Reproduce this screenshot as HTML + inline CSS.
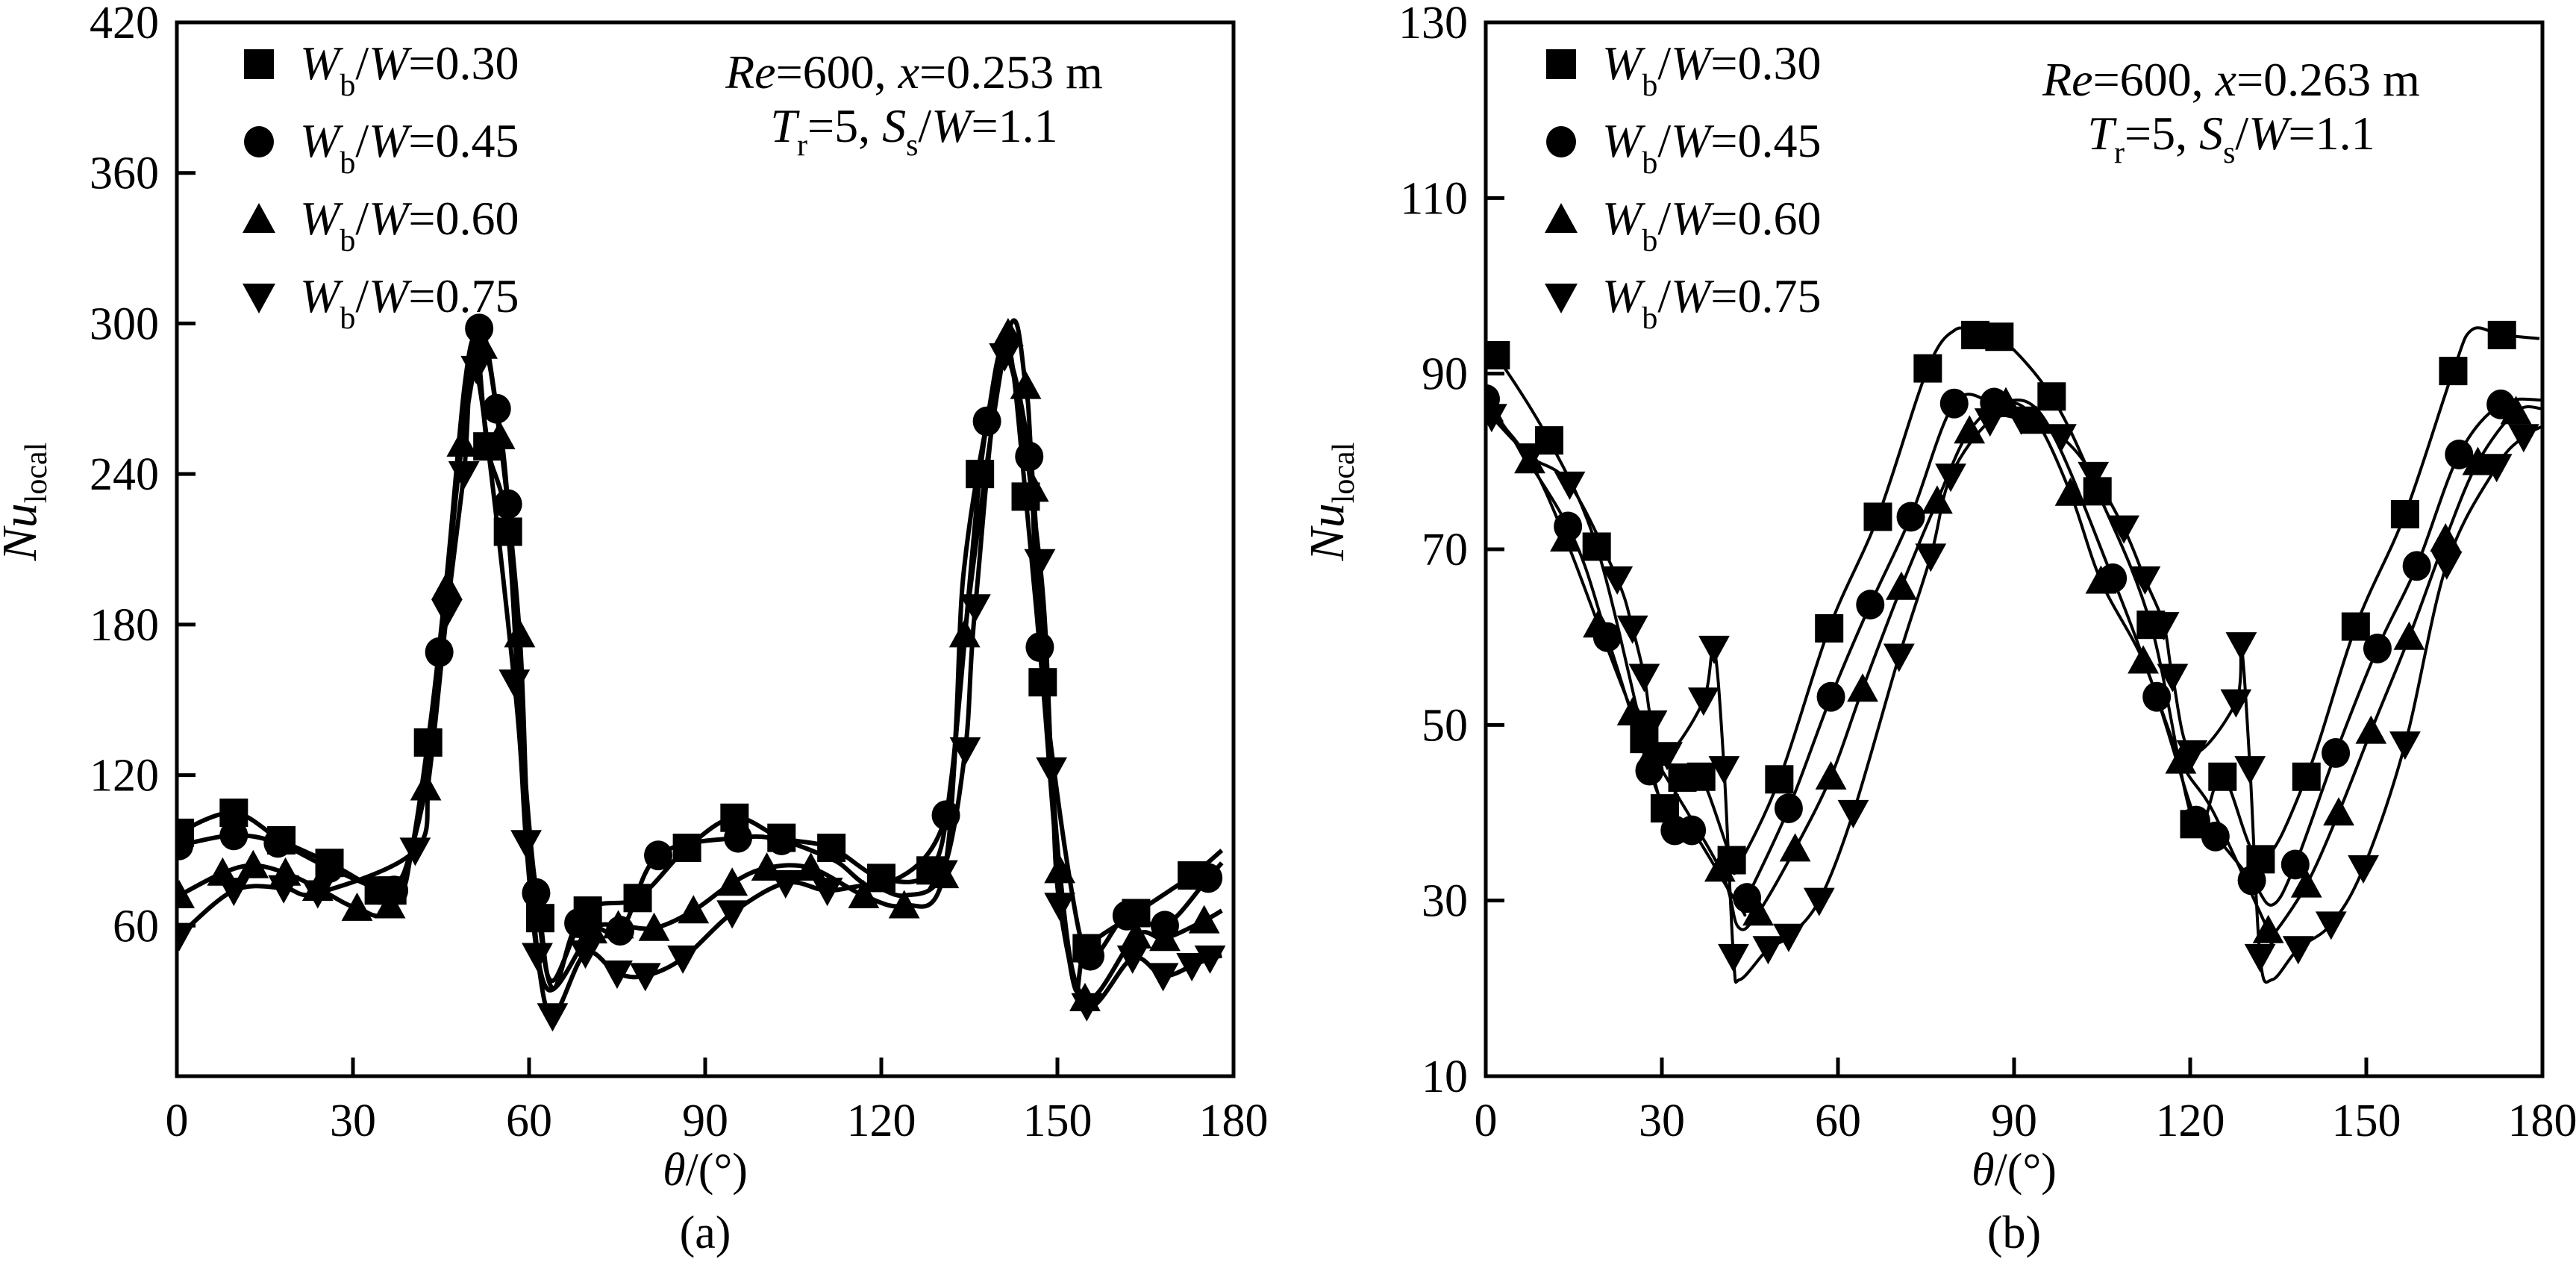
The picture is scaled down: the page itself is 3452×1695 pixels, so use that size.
<!DOCTYPE html>
<html><head><meta charset="utf-8"><style>
html,body{margin:0;padding:0;background:#fff;}
svg, svg text{font-family:"Liberation Serif","Noto Serif CJK SC","Times New Roman",serif;}
</style></head><body>
<svg id="chart" width="3452" height="1690" viewBox="0 0 3452 1690" xmlns="http://www.w3.org/2000/svg"></svg>
<script>
// ---------- Panel (a) data ----------
const aS1x=[0.5,9.7,17.8,26,34.4,36.7,42.8,52.9,56.4,61.9,70,78.5,86.9,95,103,111.5,120,128.4,136.8,144.6,147.5,155,163.4,172.9];
const aS1y=[97,105,94,85,74,74,133,251,217,63,66,71,91,103,95,91,79,82,240,231,157,51,65,80];
const aS1cx=[0,40,46,49,51,59,64,132,140,142,150,153,178];
const aS1cy=[92,90,200,275,293,120,38,120,282,288,85,35,90];

const aS2x=[0.4,9.7,17.2,26,37,44.7,51.5,54.5,56.4,61.2,68.4,75.5,82,95.6,103,131,138,145.2,147,155.6,161.8,168.3,175.7];
const aS2y=[92,96,93,83,74,169,298,266,228,73,61,58,88,95,94,104,261,247,171,48,64,60,79];
const aS2cx=[40,48,59,64,112,120,134,141,152,178];
const aS2cy=[90,245,130,35,86,76,200,290,80,85];

const aS3x=[0.4,7.8,13,18.5,24,30.7,36.3,42.4,46,48.6,52,55,58.4,70.7,75.2,81.3,88,94.6,100.5,108,117,123.9,130.6,134.2,141.6,144.6,145.9,150.4,154.7,163.4,168.3,175];
const aS3y=[72,81,84,81,75,67,68,115,195,252,291,255,176,58,60,59,66,77,83,83,72,68,80,176,296,275,234,82,31,56,55,62];
const aS3cx=[60,63,178];
const aS3cy=[90,35,66];

const aS4x=[0.4,9.7,18.2,24,40.6,46,48.9,51,57.5,59.5,61.4,64,69.6,75,79.8,86.2,94.6,103.7,110.8,130.4,134.3,136,141,147,149,150.4,155,162.8,168,172.9,176];
const aS4y=[56,74,75,73,90,185,240,282,157,93,48,24,49,41,40,47,65,77,74,81,130,187,287,205,122,68,28,47,40,44,47];
const aS4cx=[43,118,124,178];
const aS4cy=[120,76,72,48];

// ---------- Panel (b) data ----------
const bS1x=[1.7,10.8,18.9,27,30.5,33.5,36.7,41.9,50,58.5,66.8,75.3,83.4,87.5,96.4,104.2,113.3,120.7,125.5,132,139.8,148.2,156.6,164.8,173.1];
const bS1y=[92.1,82.4,70.3,48.4,40.5,44,44.1,34.6,43.8,61,73.7,90.6,94.4,94.2,87.4,76.6,61.4,38.7,44.1,34.7,44.1,61.2,74,90.3,94.4];
const bS1cx=[0,80,43,168,179.5];
const bS1cy=[92.5,95,34,95,94];

const bS2x=[0,14,20.7,27.9,32.2,35.1,44.5,51.6,58.8,65.5,72.4,79.8,86.6,106.8,114.3,121,124.3,130.5,137.9,144.8,151.9,158.6,165.8,172.9];
const bS2y=[87.1,72.6,60,44.8,38,38,30.3,40.5,53.2,63.7,73.7,86.6,86.7,66.7,53.2,39.1,37.3,32.3,34.1,46.8,58.7,68.1,80.8,86.5];
const bS2cx=[43.5,95,134,180];
const bS2cy=[29,85,29.5,87];

const bS3x=[0.4,7.5,13.6,19.2,25,28.3,39.9,46.4,52.7,58.8,64.2,70.8,76.9,82.4,88.6,93.8,99.6,104.8,112,118.4,133.3,139.8,145.3,150.8,157.3,163.5,169,175.5];
const bS3y=[86,80.1,71.2,61.4,51.4,46.8,33.6,28.6,35.9,44.1,54.1,65.7,75.5,83.5,86.7,84.6,76.4,66.4,57.3,45.9,26.6,31.8,40,49.3,60,71.2,79.9,85.7];
const bS3cx=[43,124,134,180];
const bS3cy=[27,40,26,86];

const bS4x=[1,7.5,14.3,22.4,25,27,28.3,30.9,37.1,38.9,40.6,42.2,48.1,51.6,56.8,62.6,70.4,75.8,79.2,85.9,91.2,98,103.5,108.7,112.3,115.5,117,120.3,127.8,128.7,130.2,131.9,138.4,144,149.5,156.6,163.7,172.2,176.8];
const bS4y=[85.1,80.6,77.4,66.6,61,55.5,50.2,46.6,52.8,58.7,45,23.6,24.5,25.9,30,40,57.8,69.2,78.3,84.6,84.8,82.8,78.5,72.4,66.6,61.4,55.5,46.8,52.6,59.1,45,23.6,24.5,27.3,33.7,47.8,68.3,79.4,82.8];
const bS4cx=[0,43.3,134,180];
const bS4cy=[86,21,21,84];

const seriesLabels=["0.30","0.45","0.60","0.75"];
const markerKinds=["square","circle","up","down"];
const xTicks=[0,30,60,90,120,150,180];
const aYTicks=[60,120,180,240,300,360,420];
const bYTicks=[10,30,50,70,90,110,130];
</script>
<script>
const NS="http://www.w3.org/2000/svg";
const FONT='"Liberation Serif","Noto Serif CJK SC",serif';
const svg=document.getElementById('chart');
function mk(tag,attrs,parent){const e=document.createElementNS(NS,tag);for(const k in attrs)e.setAttribute(k,attrs[k]);if(tag==='text'){e.setAttribute('font-family','Liberation Serif, Noto Serif CJK SC, serif');e.style.fontFamily=FONT;}(parent||svg).appendChild(e);return e;}

function smoothPath(pts){
  let d="M"+pts[0][0].toFixed(1)+","+pts[0][1].toFixed(1);
  for(let i=0;i<pts.length-1;i++){
    const p0=pts[Math.max(0,i-1)],p1=pts[i],p2=pts[i+1],p3=pts[Math.min(pts.length-1,i+2)];
    const c1=[p1[0]+(p2[0]-p0[0])/6,p1[1]+(p2[1]-p0[1])/6];
    const c2=[p2[0]-(p3[0]-p1[0])/6,p2[1]-(p3[1]-p1[1])/6];
    d+="C"+c1[0].toFixed(1)+","+c1[1].toFixed(1)+" "+c2[0].toFixed(1)+","+c2[1].toFixed(1)+" "+p2[0].toFixed(1)+","+p2[1].toFixed(1);
  }
  return d;
}
function marker(g,kind,cx,cy,s){
  let e;
  if(kind==="square"){e=mk('rect',{x:cx-s/2,y:cy-s/2,width:s,height:s,fill:'#000'},g);}
  else if(kind==="circle"){e=mk('ellipse',{cx:cx,cy:cy,rx:s/2,ry:s/2*1.05,fill:'#000'},g);}
  else if(kind==="up"){e=mk('polygon',{points:`${cx},${cy-s*0.55} ${cx+s*0.55},${cy+s*0.45} ${cx-s*0.55},${cy+s*0.45}`,fill:'#000'},g);}
  else {e=mk('polygon',{points:`${cx},${cy+s*0.55} ${cx+s*0.55},${cy-s*0.45} ${cx-s*0.55},${cy-s*0.45}`,fill:'#000'},g);}
  return e;
}
function legendText(g,x,y,val){
  const t=mk('text',{x:x,y:y,'font-size':64},g);
  const a=mk('tspan',{'font-style':'italic'},t);a.textContent="W";
  const b=mk('tspan',{'font-size':42,dy:22},t);b.textContent="b";
  const c=mk('tspan',{dy:-22},t);c.textContent="/";
  const d=mk('tspan',{'font-style':'italic'},t);d.textContent="W";
  const e=mk('tspan',{},t);e.textContent="="+val;
  return t;
}

function drawPanel(cfg){
  const g=mk('g',{});
  
  
  const L=cfg.L,R=cfg.R,T=cfg.T,B=cfg.B;
  const xs=v=>L+(v-0)/(180-0)*(R-L);
  const ys=v=>B-(v-cfg.ymin)/(cfg.ymax-cfg.ymin)*(B-T);
  const clipId='clip-'+cfg.name;
  const cp=mk('clipPath',{id:clipId},g);mk('rect',{x:L,y:T,width:R-L,height:B-T},cp);
  cfg.series.forEach((s,i)=>{
    const sg=mk('g',{'clip-path':`url(#${clipId})`},g);
    
    
    let pts=[];
    s.x.forEach((v,j)=>pts.push([v,s.y[j]]));
    s.cx.forEach((v,j)=>pts.push([v,s.cy[j]]));
    pts.sort((a,b)=>a[0]-b[0]);
    const pp=pts.map(p=>[xs(p[0]),ys(p[1])]);
    const path=mk('path',{d:smoothPath(pp),fill:'none',stroke:'#000','stroke-width':cfg.lw,'stroke-linejoin':'round'},sg);
    
    
    s.x.forEach((v,j)=>{
      const m=marker(sg,markerKinds[i],xs(v),ys(s.y[j]),cfg.ms);
      
      
    });
  });
  const box=mk('rect',{x:L,y:T,width:R-L,height:B-T,fill:'none',stroke:'#000','stroke-width':5},g);
  
  
  cfg.yTicks.forEach(v=>{
    const y=ys(v);
    if(v>cfg.ymin&&v<cfg.ymax){const tk=mk('line',{x1:L,x2:L+25,y1:y,y2:y,stroke:'#000','stroke-width':5},g);
      }
    const t=mk('text',{x:L-24,y:y+21,'font-size':62,'text-anchor':'end'},g);
    t.textContent=v;
    
    
  });
  xTicks.forEach(v=>{
    const x=xs(v);
    if(v>0&&v<180){const tk=mk('line',{x1:x,x2:x,y1:B,y2:B-25,stroke:'#000','stroke-width':5},g);
      }
    const t=mk('text',{x:x,y:B+80,'font-size':62,'text-anchor':'middle'},g);
    t.textContent=v;
    
    
  });
  const xt=mk('text',{x:(L+R)/2,y:1588,'font-size':62,'text-anchor':'middle'},g);
  
  const th=mk('tspan',{'font-style':'italic'},xt);th.textContent="θ";
  const th2=mk('tspan',{},xt);th2.textContent="/(°)";
  const cap=mk('text',{x:(L+R)/2,y:1672,'font-size':62,'text-anchor':'middle'},g);
  cap.textContent=cfg.caption;
  
  const yt=mk('text',{x:0,y:0,'font-size':66,'text-anchor':'middle',transform:`translate(${cfg.ytx},${cfg.yty}) rotate(-90)`},g);
  
  const n1=mk('tspan',{'font-style':'italic'},yt);n1.textContent="Nu";
  const n2=mk('tspan',{'font-size':42,dy:14},yt);n2.textContent="local";
  const lg=mk('g',{},g);
  seriesLabels.forEach((lab,i)=>{
    const y=cfg.legY+i*104;
    const m=marker(lg,markerKinds[i],cfg.legX,y,40);
    
    const t=legendText(lg,cfg.legX+55,y+20,lab);
    
  });
  const an=mk('g',{},g);
  const a1=mk('text',{x:cfg.annX,y:cfg.annY,'font-size':64,'text-anchor':'middle'},an);
  [["Re",1],["=600, ",0],["x",1],["="+cfg.xval+" m",0]].forEach(p=>{const s=mk('tspan',p[1]?{'font-style':'italic'}:{},a1);s.textContent=p[0];});
  const a2=mk('text',{x:cfg.annX,y:cfg.annY+72,'font-size':64,'text-anchor':'middle'},an);
  const parts=[["T",{'font-style':'italic'}],["r",{'font-size':42,dy:18}],["=5, ",{dy:-18}],["S",{'font-style':'italic'}],["s",{'font-size':42,dy:18}],["/",{dy:-18}],["W",{'font-style':'italic'}],["=1.1",{}]];
  parts.forEach(p=>{const s=mk('tspan',p[1],a2);s.textContent=p[0];});
}

drawPanel({name:'panel-a',L:237,R:1653,T:30,B:1442,ymin:0,ymax:420,yTicks:aYTicks,lw:6,ms:38,caption:'(a)',
  ytx:48,yty:672,legX:347,legY:86,annX:1225,annY:118,xval:'0.253',
  series:[{x:aS1x,y:aS1y,cx:aS1cx,cy:aS1cy},{x:aS2x,y:aS2y,cx:aS2cx,cy:aS2cy},{x:aS3x,y:aS3y,cx:aS3cx,cy:aS3cy},{x:aS4x,y:aS4y,cx:aS4cx,cy:aS4cy}]});
drawPanel({name:'panel-b',L:1991,R:3407,T:30,B:1442,ymin:10,ymax:130,yTicks:bYTicks,lw:4,ms:38,caption:'(b)',
  ytx:1800,yty:672,legX:2092,legY:86,annX:2990,annY:128,xval:'0.263',
  series:[{x:bS1x,y:bS1y,cx:bS1cx,cy:bS1cy},{x:bS2x,y:bS2y,cx:bS2cx,cy:bS2cy},{x:bS3x,y:bS3y,cx:bS3cx,cy:bS3cy},{x:bS4x,y:bS4y,cx:bS4cx,cy:bS4cy}]});
</script>
</body></html>
